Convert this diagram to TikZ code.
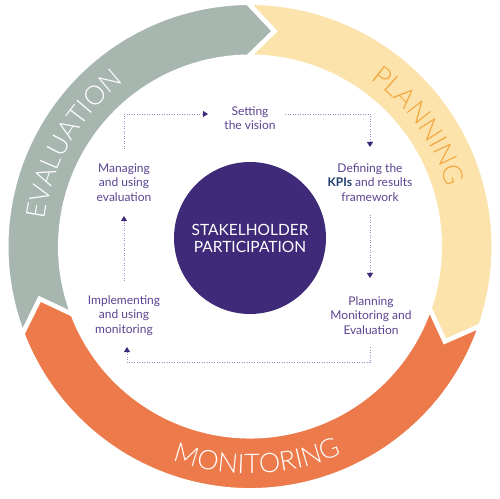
\documentclass[tikz,border=0pt]{standalone}
\usepackage{fontspec}
\setmainfont{Lato}
\newfontfamily\ringfont{Lato Light}
\usetikzlibrary{calc,decorations.text,arrows.meta}
\definecolor{evalc}{HTML}{A7B7B0}
\definecolor{planc}{HTML}{FCE3AC}
\definecolor{monc}{HTML}{EC7A4B}
\definecolor{partc}{HTML}{3E2A78}
\definecolor{plantxt}{HTML}{F2A53A}
\definecolor{stepc}{HTML}{5A4290}
\definecolor{kpic}{HTML}{1F3C6E}
\definecolor{dotc}{HTML}{9A8AC6}
\def\Ro{243.75}\def\Ri{189.75}\def\Rm{216.75}\def\tipd{7}
\newcommand\ringseg[3]{%
  \path[seg,fill=#1] ($(C)+(#2:\Ro)$) arc[start angle=#2,end angle=#3,radius=\Ro]
    -- ($(C)+({#3-\tipd}:\Rm)$) -- ($(C)+(#3:\Ri)$)
    arc[start angle=#3,end angle=#2,radius=\Ri]
    -- ($(C)+({#2-\tipd}:\Rm)$) -- cycle;}
\begin{document}
\begin{tikzpicture}[x=1pt,y=1pt,
  seg/.style={draw=white,line width=4.5pt,line join=miter},
  stepnode/.style={text=stepc,align=center,font=\fontsize{12}{14.5}\selectfont,inner sep=0pt},
  hubnode/.style={circle,fill=partc,minimum size=152pt,inner sep=0pt,text=white,align=center,font=\fontsize{15.5}{17}\selectfont},
  flow/.style={dotc,line width=0.9pt,dash pattern=on 0.9pt off 1.6pt,-{Triangle[width=6pt,length=5pt,color=partc]}},
]
\useasboundingbox (0,0) rectangle (500,498);
\coordinate (C) at (250,251.5);
% ring segments (clockwise)
\ringseg{evalc}{201}{90.5}
\ringseg{planc}{90.5}{-19}
\ringseg{monc}{341}{201}
% ring labels
\path[decorate,decoration={text along path,text align=center,text color=white,
  text={|\ringfont\fontsize{26.5}{26.5}\selectfont|EVALUATION}}]
  ($(C)+(200:207)$) arc[start angle=200,end angle=100,radius=207];
\path[decorate,decoration={text along path,text align=center,text color=plantxt,
  text={|\ringfont\fontsize{27}{27}\selectfont|PLANNING}}]
  ($(C)+(80:206)$) arc[start angle=80,end angle=-9,radius=206];
\path[decorate,decoration={text along path,text align=center,text color=white,
  text={|\ringfont\fontsize{27}{27}\selectfont|MONITORING}}]
  ($(C)+(222:227)$) arc[start angle=222,end angle=322,radius=227];
% hub
\node[hubnode] (hub) at (250,260) {STAKELHOLDER\\PARTICIPATION};
% steps
\node[stepnode] (set) at (250,380) {Setting\\the vision};
\node[stepnode] (def) at (370,315.5) {Defining the\\{\bfseries\color{kpic}KPIs} and results\\framework};
\node[stepnode] (pme) at (371,182.5) {Planning\\Monitoring and\\Evaluation};
\node[stepnode] (imp) at (124,182.5) {Implementing\\and using\\monitoring};
\node[stepnode] (man) at (124,315.5) {Managing\\and using\\evaluation};
% flows
\draw[flow] ($(man)+(0,33.5)$) |- ($(set)+(-42,4)$);
\draw[flow] ($(set)+(35,4)$) -| ($(def)+(0,35.5)$);
\draw[flow] ($(def)+(0,-32.5)$) -- ($(pme)+(-1,37.5)$);
\draw[flow] ($(pme)+(-1,-31.5)$) -- ++(0,-15) -| ($(imp)+(3,-31.5)$);
\draw[flow] ($(imp)+(0,34.5)$) -- ($(man)+(0,-33.5)$);
\end{tikzpicture}
\end{document}
